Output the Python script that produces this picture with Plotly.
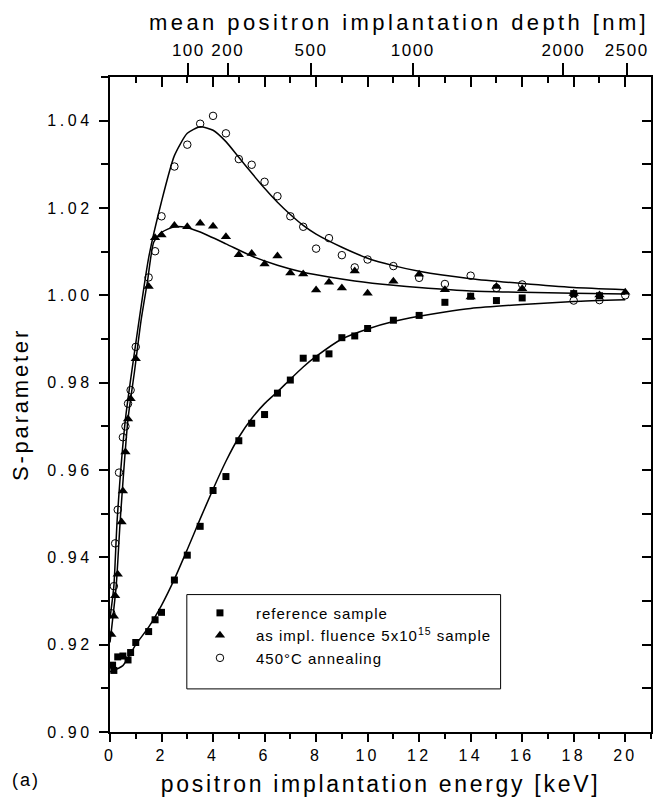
import plotly.graph_objects as go

# ---------------- data ----------------
ref_E = [0.1, 0.15, 0.3, 0.5, 0.7, 0.8, 1.0, 1.5, 1.75, 2.0, 2.5, 3.0, 3.5, 4.0, 4.5, 5.0, 5.5,
         6.0, 6.5, 7.0, 7.5, 8.0, 8.5, 9.0, 9.5, 10.0, 11.0, 12.0, 13.0, 14.0, 15.0, 16.0, 18.0, 19.0]
ref_S = [0.9153, 0.9141, 0.9172, 0.9174, 0.9165, 0.9182, 0.9205, 0.9230, 0.9257, 0.9274, 0.9348,
         0.9405, 0.9471, 0.9553, 0.9585, 0.9667, 0.9707, 0.9727, 0.9776, 0.9806, 0.9856, 0.9856,
         0.9866, 0.9903, 0.9907, 0.9924, 0.9943, 0.9954, 0.9984, 0.9998, 0.9988, 0.9994, 1.0004, 0.9999]

imp_E = [0.05, 0.15, 0.2, 0.3, 0.45, 0.5, 0.6, 0.7, 0.8, 1.0, 1.5, 1.75, 2.0, 2.5, 3.0, 3.5, 4.0,
         4.5, 5.0, 5.5, 6.0, 6.5, 7.0, 7.5, 8.0, 8.5, 9.0, 9.5, 10.0, 11.0, 12.0, 13.0, 14.0, 15.0,
         16.0, 18.0, 19.0, 20.0]
imp_S = [0.9223, 0.9265, 0.9312, 0.9361, 0.9481, 0.9552, 0.9641, 0.9717, 0.9763, 0.9855, 1.0020,
         1.0132, 1.0138, 1.0160, 1.0157, 1.0165, 1.0158, 1.0134, 1.0093, 1.0096, 1.0072, 1.0090,
         1.0051, 1.0049, 1.0012, 1.0030, 1.0017, 1.0056, 1.0005, 1.0032, 1.0048, 1.0013, 0.9996,
         1.0020, 1.0015, 1.0004, 1.0001, 1.0007]

ann_E = [0.05, 0.15, 0.2, 0.3, 0.35, 0.5, 0.6, 0.7, 0.8, 1.0, 1.5, 1.75, 2.0, 2.5, 3.0, 3.5, 4.0,
         4.5, 5.0, 5.5, 6.0, 6.5, 7.0, 7.5, 8.0, 8.5, 9.0, 9.5, 10.0, 11.0, 12.0, 13.0, 14.0, 15.0,
         16.0, 18.0, 19.0, 20.0]
ann_S = [0.9272, 0.9334, 0.9432, 0.9509, 0.9594, 0.9675, 0.9700, 0.9752, 0.9783, 0.9882, 1.0041,
         1.0101, 1.0181, 1.0295, 1.0345, 1.0393, 1.0411, 1.0371, 1.0312, 1.0299, 1.0260, 1.0227,
         1.0181, 1.0157, 1.0107, 1.0131, 1.0092, 1.0064, 1.0082, 1.0067, 1.0040, 1.0026, 1.0045,
         1.0017, 1.0025, 0.9988, 0.9989, 1.0000]

# fitted curves
fit_ref_E = [0, 0.5, 1, 1.5, 2, 2.5, 3, 3.5, 4, 4.5, 5, 5.5, 6, 6.5, 7, 7.5, 8, 9, 10, 11, 12,
             13, 14, 16, 18, 20]
fit_ref_S = [0.9138, 0.9152, 0.9200, 0.9240, 0.9290, 0.9350, 0.9418, 0.9488, 0.9556, 0.9620,
             0.9675, 0.9718, 0.9752, 0.9779, 0.9808, 0.9836, 0.9860, 0.9900, 0.9923, 0.9940,
             0.9952, 0.9962, 0.9970, 0.9979, 0.9986, 0.9990]

fit_imp_E = [0, 0.24, 0.4, 0.7, 0.95, 1.2, 1.45, 1.7, 2.0, 2.5, 3.0, 3.5, 4.5, 5.5, 6.5, 7.5,
             8.5, 9.5, 11, 12, 14, 16, 18, 20]
fit_imp_S = [0.9205, 0.9334, 0.9487, 0.9717, 0.9825, 0.9940, 1.0030, 1.0122, 1.0144, 1.0157,
             1.0155, 1.0145, 1.0118, 1.0090, 1.0069, 1.0053, 1.0042, 1.0033, 1.0023, 1.0018,
             1.0010, 1.0007, 1.0005, 1.0003]

fit_ann_E = [0, 0.15, 0.28, 0.6, 1.0, 1.5, 2.0, 2.5, 3.0, 3.5, 4.0, 4.5, 5.0, 5.5, 6.0, 6.5,
             7.0, 7.5, 8.0, 9.0, 10, 11, 12, 14, 16, 18, 20]
fit_ann_S = [0.9260, 0.9334, 0.9487, 0.9717, 0.9890, 1.0086, 1.0215, 1.0320, 1.0371, 1.0386,
             1.0378, 1.0352, 1.0316, 1.0280, 1.0245, 1.0213, 1.0185, 1.0160, 1.0140, 1.0110,
             1.0085, 1.0068, 1.0055, 1.0038, 1.0027, 1.0018, 1.0013]

# top axis: mean implantation depth labels and the energies where they sit
depth_labels = ["100", "200", "500", "1000", "2000", "2500"]
depth_label_energy = [3.04, 4.57, 7.80, 11.75, 17.6, 20.06]

names = ["reference sample",
         "as impl. fluence 5x10<sup>15</sup> sample",
         "450°C annealing"]

FONT = "Liberation Sans, Arial, Helvetica, sans-serif"
XR = [0, 21]
YR = [0.90, 1.05]

fig = go.Figure()

# fitted lines
for fx, fy in [(fit_ref_E, fit_ref_S), (fit_imp_E, fit_imp_S), (fit_ann_E, fit_ann_S)]:
    fig.add_trace(go.Scatter(x=fx, y=fy, mode="lines", showlegend=False, hoverinfo="skip",
                             line=dict(color="black", width=1.5, shape="spline", smoothing=0.6)))

# data points
fig.add_trace(go.Scatter(x=ref_E, y=ref_S, mode="markers", name=names[0],
                         marker=dict(symbol="square", size=7, color="black")))
fig.add_trace(go.Scatter(x=imp_E, y=imp_S, mode="markers", name=names[1],
                         marker=dict(symbol="triangle-up", size=9, color="black")))
fig.add_trace(go.Scatter(x=ann_E, y=ann_S, mode="markers", name=names[2],
                         marker=dict(symbol="circle-open", size=7.5, color="black",
                                     line=dict(width=1, color="black"))))

# invisible carriers so that the top and right frame axes are drawn
fig.add_trace(go.Scatter(x=fit_ref_E, y=fit_ref_S, xaxis="x2", yaxis="y", mode="lines",
                         line=dict(width=0), opacity=0, showlegend=False, hoverinfo="skip"))
fig.add_trace(go.Scatter(x=fit_ref_E, y=fit_ref_S, xaxis="x3", yaxis="y2", mode="lines",
                         line=dict(width=0), opacity=0, showlegend=False, hoverinfo="skip"))

tick_font = dict(family=FONT, size=16, color="black")

fig.update_layout(
    width=661, height=807,
    margin=dict(l=102, r=18, t=69, b=83),
    paper_bgcolor="white", plot_bgcolor="white",
    font=dict(family=FONT, color="black"),
    xaxis=dict(range=XR, dtick=2, tick0=0, ticks="outside", ticklen=8, tickwidth=1.5,
               tickcolor="black", minor=dict(dtick=1, ticklen=5, tickwidth=1.5, tickcolor="black",
                                             ticks="outside"),
               showline=True, linewidth=2, linecolor="black", showgrid=False, zeroline=False,
               tickfont=tick_font,
               title=dict(text="positron implantation energy [keV]",
                          font=dict(family=FONT, size=23, color="black"), standoff=13)),
    xaxis3=dict(range=XR, overlaying="x", side="top", anchor="y", dtick=2, tick0=0,
                ticks="inside", ticklen=10, tickwidth=1.5, tickcolor="black",
                minor=dict(dtick=1, ticklen=6, tickwidth=1.5, tickcolor="black", ticks="inside"),
                showticklabels=False, showline=True, linewidth=2, linecolor="black",
                showgrid=False, zeroline=False),
    xaxis2=dict(range=XR, overlaying="x", side="top", anchor="y",
                tickmode="array", tickvals=depth_label_energy, ticktext=depth_labels,
                ticks="outside", ticklen=13, tickwidth=1.5, tickcolor="black",
                showline=False, showgrid=False, zeroline=False,
                tickfont=dict(family=FONT, size=17, color="black")),
    yaxis=dict(range=YR, dtick=0.02, tick0=0.90, tickformat=".2f", ticks="outside", ticklen=9,
               tickwidth=1.5, tickcolor="black", ticklabelstandoff=3,
               minor=dict(dtick=0.01, ticklen=7, tickwidth=1.5, tickcolor="black", ticks="outside"),
               showline=True, linewidth=2, linecolor="black", showgrid=False, zeroline=False,
               tickfont=tick_font,
               title=dict(text="S-parameter", font=dict(family=FONT, size=22, color="black"),
                          standoff=27)),
    yaxis2=dict(range=YR, overlaying="y", side="right", anchor="x", dtick=0.01, tick0=0.90,
                ticks="inside", ticklen=9, tickwidth=1.5, tickcolor="black",
                showticklabels=False, showline=True, linewidth=2, linecolor="black",
                showgrid=False, zeroline=False),
    legend=dict(x=0.1367, y=0.2067, xanchor="left", yanchor="top", bgcolor="rgba(0,0,0,0)",
                borderwidth=0, font=dict(family=FONT, size=15, color="black"),
                itemwidth=62, tracegroupgap=0),
    showlegend=True,
)

# legend frame
fig.add_shape(type="rect", xref="paper", yref="paper", x0=0.142, x1=0.722, y0=0.0658, y1=0.2098,
              line=dict(color="black", width=1))

# panel label (annotation 0) and top-axis title (annotation 1)
fig.add_annotation(text="(a)", xref="paper", yref="paper", x=-0.18, y=-0.0735,
                   xanchor="left", yanchor="middle", showarrow=False,
                   font=dict(family=FONT, size=18, color="black"))
fig.add_annotation(text="mean positron implantation depth [nm]", xref="paper", yref="paper",
                   x=0.535, y=1.083, xanchor="center", yanchor="middle", showarrow=False,
                   font=dict(family=FONT, size=22, color="black"))

post = """
var st = document.createElement('style');
st.textContent = '.xtitle{letter-spacing:2.7px}' +
  '.ytitle{letter-spacing:2.8px}' +
  'g.xtick text{letter-spacing:3.2px}' +
  'g.ytick text{letter-spacing:3.6px}' +
  'g.x2tick text{letter-spacing:1.5px}' +
  '.legendtext{letter-spacing:1px}' +
  '.legend .scrollbox{clip-path:none !important}' +
  '.annotation-text{letter-spacing:2px}' +
  'g.annotation[data-index="1"] text{letter-spacing:3.4px}';
document.head.appendChild(st);
"""

fig.write_html("out.html", post_script=post)
